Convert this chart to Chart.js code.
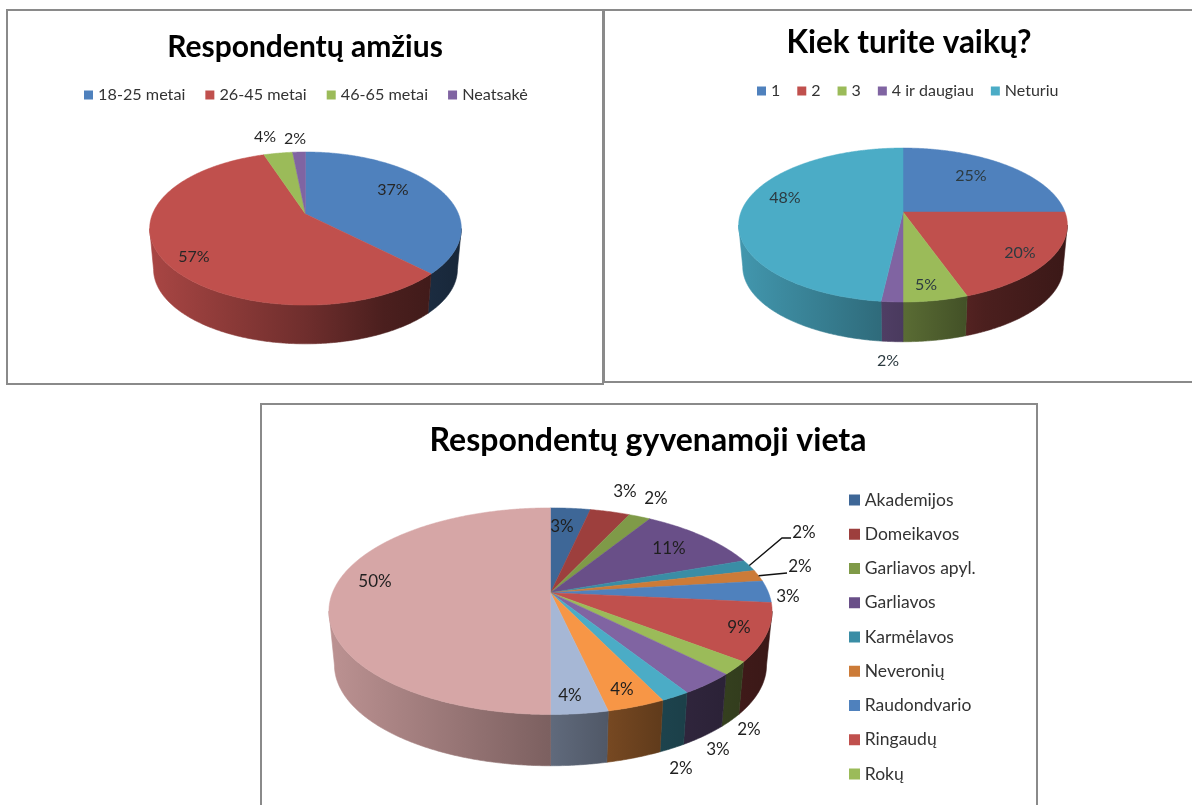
<!DOCTYPE html>
<html lang="lt"><head><meta charset="utf-8">
<script src="https://cdn.jsdelivr.net/npm/chart.js@4"></script>
<style>
html,body{margin:0;padding:0;background:#fff;width:1192px;height:805px;overflow:hidden}
.panel{position:absolute;box-sizing:border-box;background:#fff;border:2px solid #8a8a8a}
canvas{display:block}
</style></head><body>
<div class="panel" style="left:6px;top:9px;width:598px;height:376px"><canvas id="c1" width="594" height="372" style="filter:blur(.35px)"></canvas></div>
<div class="panel" style="left:603px;top:9px;width:600px;height:374px;border-right:0"><canvas id="c2" width="598" height="370" style="filter:blur(.7px)"></canvas></div>
<div class="panel" style="left:260px;top:403px;width:778px;height:410px;border-bottom:0"><canvas id="c3" width="774" height="408" style="filter:blur(.35px)"></canvas></div>
<script>
// ---------- data ----------
const ageTitle = 'Respondentų amžius';
const ageLabels = ['18-25 metai', '26-45 metai', '46-65 metai', 'Neatsakė'];
const ageValues = [37.4, 57.4, 3.6, 1.6];
const ageColors = ['#4F81BD', '#C0504D', '#9BBB59', '#8064A2'];

const kidsTitle = 'Kiek turite vaikų?';
const kidsLabels = ['1', '2', '3', '4 ir daugiau', 'Neturiu'];
const kidsValues = [25, 19.6, 5.4, 1.8, 48.2];
const kidsColors = ['#4F81BD', '#C0504D', '#9BBB59', '#8064A2', '#4BACC6'];

const placeTitle = 'Respondentų gyvenamoji vieta';
// the last five legend entries are cut off in the picture, so their names are unknown
const placeLabels = ['Akademijos', 'Domeikavos', 'Garliavos apyl.', 'Garliavos', 'Karmėlavos', 'Neveronių', 'Raudondvario', 'Ringaudų', 'Rokų', '', '', '', '', ''];
const placeValues = [3.45, 3.45, 1.9, 10.7, 1.8, 1.8, 3.45, 9.0, 2.05, 3.49, 1.8, 3.6, 3.51, 50];
const placeColors = ['#3E6797', '#9D3F3D', '#7F9A48', '#694F88', '#3A8DA5', '#CC7B38', '#4F81BD', '#C0504D', '#9BBB59', '#8064A2', '#4BACC6', '#F79646', '#A6B7D5', '#D6A6A6'];

// ---------- layout (page pixels, separate from the data) ----------
const ageLayout = {
  origin: [8, 11], apex: [305.5, 214], B: 153, A: 73.8, k: .19, D: 41, s: .975,
  title: [305, 47], titleSize: 30, legend: [87, 95],
  legendFont: 16.2, legendGap: 23, box: 9,
  labelFont: 16, labelColor: '#262626',
  offsets: [[87.5, -24], [-111.5, 43], [-40.5, -77], [-10.5, -75]]
};
const kidsLayout = {
  origin: [605, 11], apex: [903, 212], B: 162, A: 74.8, k: .169, D: 42, s: .975,
  title: [909, 43], titleSize: 31.5, legend: [760, 91],
  legendFont: 16, legendGap: 20, box: 9,
  labelFont: 16, labelColor: '#2c3a40',
  offsets: [[68, -36], [117, 41], [23, 73], [-15, 149], [-118, -14]]
};
const placeLayout = {
  origin: [262, 405], apex: [550.5, 592.7], B: 218, A: 100, k: .179, D: 54.3, s: .975,
  title: [648, 441], titleSize: 32, legend: [853, 500],
  legendFont: 17.5, legendRow: 34.25, box: 11,
  labelFont: 17, labelColor: '#1f1f1f',
  offsets: [[11.5, -65.7], [74.5, -100.7], [105.5, -93.7], [118.5, -43.7], [253.5, -59.7], [249.5, -25.7], [237.5, 4.3], [188.5, 35.3], [198.5, 137.3], [167.5, 157.3], [130.5, 176.3], [71.5, 97.3], [19.5, 103.3], [-175.5, -10.7]],
  leaders: { 4: [[231.5, -54.7], [240.5, -54.7]], 5: [[236.5, -19.7]] }
};

// wall shading across the pie's width: [position -1..1, brightness]
const wallShade = [[-1, .88], [-.5, .73], [0, .58], [.5, .39], [1, .3]];

function rgb(hex, f) {
  const n = parseInt(hex.slice(1), 16);
  return 'rgb(' + [(n >> 16) & 255, (n >> 8) & 255, n & 255].map(c => Math.round(c * f)).join(',') + ')';
}

const pie3d = {
  id: 'pie3d',
  beforeDraw(chart, args, o) {
    const L = o.layout, ox = L.origin[0], oy = L.origin[1];
    const tb = chart.titleBlock;
    const th = chart.options.plugins.title.font.size * 1.2;
    tb.left = L.title[0] - ox - 300; tb.right = L.title[0] - ox + 300;
    tb.top = L.title[1] - oy - th / 2; tb.bottom = tb.top + th;
    const lg = chart.legend, pad = chart.options.plugins.legend.labels.padding;
    lg.left = L.legend[0] - ox - pad; lg.right = lg.left + 700;
    lg.top = L.legend[1] - oy - pad - L.legendFont / 2; lg.bottom = lg.top + 700;
  },
  beforeDatasetsDraw(chart, args, o) {
    const L = o.layout, ctx = chart.ctx;
    const cx = L.apex[0] - L.origin[0], cy = L.apex[1] - L.origin[1];
    const point = (th, s, dy) => {
      const u = Math.sin(th), v = -Math.cos(th), w = 1 - L.k * v;
      return [cx + s * L.B * u / w, cy + dy + s * L.A * v / w];
    };
    const meta = chart.getDatasetMeta(0);
    const colors = chart.data.datasets[0].backgroundColor;
    const half = L.B / Math.sqrt(1 - L.k * L.k);
    const lo = Math.acos(-L.k), hi = 2 * Math.PI - lo, step = Math.PI / 360;
    const arcs = meta.data.map(a => [a.startAngle + Math.PI / 2, a.endAngle + Math.PI / 2]);
    // side walls
    arcs.forEach(([a, b], i) => {
      const s0 = Math.max(a, lo), s1 = Math.min(b, hi);
      if (s1 <= s0) return;
      const top = [], bot = [];
      for (let t = s0; t < s1; t += step) { top.push(point(t, 1, 0)); bot.push(point(t, L.s, L.D)); }
      top.push(point(s1, 1, 0)); bot.push(point(s1, L.s, L.D));
      const g = ctx.createLinearGradient(cx - half, 0, cx + half, 0);
      wallShade.forEach(([p, f]) => g.addColorStop((p + 1) / 2, rgb(colors[i], f)));
      ctx.beginPath();
      top.forEach(p => ctx.lineTo(p[0], p[1]));
      bot.reverse().forEach(p => ctx.lineTo(p[0], p[1]));
      ctx.closePath();
      ctx.fillStyle = g; ctx.strokeStyle = g; ctx.lineWidth = .6;
      ctx.fill(); ctx.stroke();
    });
    // top face
    arcs.forEach(([a, b], i) => {
      ctx.beginPath(); ctx.moveTo(cx, cy);
      for (let t = a; t < b; t += step) { const p = point(t, 1, 0); ctx.lineTo(p[0], p[1]); }
      const e = point(b, 1, 0); ctx.lineTo(e[0], e[1]);
      ctx.closePath();
      ctx.fillStyle = colors[i]; ctx.strokeStyle = colors[i]; ctx.lineWidth = .5;
      ctx.fill(); ctx.stroke();
    });
    // leader lines
    ctx.strokeStyle = '#111'; ctx.lineWidth = 1.4;
    Object.entries(L.leaders || {}).forEach(([i, pts]) => {
      const [a, b] = arcs[i], p = point((a + b) / 2, 1, 0);
      ctx.beginPath(); ctx.moveTo(p[0], p[1]);
      pts.forEach(q => ctx.lineTo(cx + q[0], cy + q[1]));
      ctx.stroke();
    });
    // percentage labels
    const vals = chart.data.datasets[0].data, sum = vals.reduce((x, y) => x + y, 0);
    ctx.font = L.labelFont + 'px Lato'; ctx.fillStyle = L.labelColor;
    ctx.textAlign = 'center'; ctx.textBaseline = 'middle';
    vals.forEach((v, i) => ctx.fillText(Math.round(v / sum * 100) + '%', cx + L.offsets[i][0], cy + L.offsets[i][1]));
    return false;
  }
};

function make(id, title, labels, values, colors, layout, legendPos) {
  const stroke = (layout.box - 3);
  return new Chart(document.getElementById(id), {
    type: 'pie',
    plugins: [pie3d],
    data: { labels, datasets: [{ data: values, backgroundColor: colors, borderWidth: 0 }] },
    options: {
      responsive: false, animation: false, events: [],
      layout: { padding: 0 },
      plugins: {
        pie3d: { layout },
        tooltip: { enabled: false },
        title: { display: true, text: title, color: '#000', padding: 0,
          font: { family: 'Lato', weight: 'bold', size: layout.titleSize, lineHeight: 1.2 } },
        legend: { position: legendPos, align: 'start',
          labels: {
            color: '#333', font: { family: 'Lato', size: layout.legendFont },
            boxWidth: 3, boxHeight: 3,
            padding: legendPos === 'right' ? layout.legendRow - layout.legendFont : layout.legendGap,
            filter: item => item.text !== '',
            generateLabels(chart) {
              return Chart.overrides.pie.plugins.legend.labels.generateLabels(chart).map(it => {
                it.lineWidth = stroke; it.strokeStyle = it.fillStyle; it.lineJoin = 'miter'; return it;
              });
            }
          } }
      }
    }
  });
}
make('c1', ageTitle, ageLabels, ageValues, ageColors, ageLayout, 'top');
make('c2', kidsTitle, kidsLabels, kidsValues, kidsColors, kidsLayout, 'top');
make('c3', placeTitle, placeLabels, placeValues, placeColors, placeLayout, 'right');
</script>
</body></html>
